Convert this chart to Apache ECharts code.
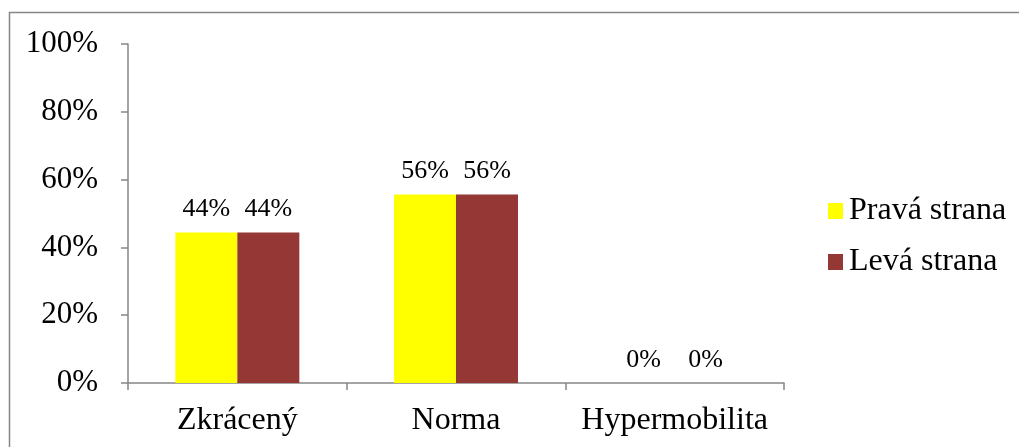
<!DOCTYPE html>
<html>
<head>
<meta charset="utf-8">
<script src="https://cdn.jsdelivr.net/npm/echarts@6/dist/echarts.min.js"></script>
<style>
html,body{margin:0;padding:0;background:#fff;}
#c{width:1019px;height:447px;}
</style>
</head>
<body>
<div id="c"></div>
<script>
const categories = ['Zkrácený', 'Norma', 'Hypermobilita'];
const seriesNames = ['Pravá strana', 'Levá strana'];
const pravaValues = [44.4, 55.6, 0];
const levaValues = [44.4, 55.6, 0];
const yTicks = [0, 20, 40, 60, 80, 100];

const chart = echarts.init(document.getElementById('c'), null, {renderer: 'canvas'});
const font = '"Liberation Serif", "Times New Roman", serif';
const labelCfg = {
  show: true,
  position: 'top',
  distance: 10,
  fontFamily: font,
  fontSize: 26,
  color: '#000',
  formatter: p => Math.round(p.value) + '%'
};
chart.setOption({
  animation: false,
  graphic: [{
    type: 'rect',
    shape: {x: 9.5, y: 12.5, width: 1030, height: 460},
    style: {fill: 'none', stroke: '#868686', lineWidth: 1.5},
    silent: true
  }],
  grid: {left: 128, right: 235, top: 44, bottom: 64, containLabel: false},
  legend: {
    orient: 'vertical',
    left: 828,
    top: 195,
    padding: 0,
    itemWidth: 15,
    itemHeight: 16,
    itemGap: 19,
    icon: 'rect',
    textStyle: {fontFamily: font, fontSize: 32, color: '#000', lineHeight: 32, padding: [0, 0, 0, 1]},
    data: seriesNames
  },
  xAxis: {
    type: 'category',
    data: categories,
    axisLine: {lineStyle: {color: '#868686', width: 1.5}},
    axisTick: {show: true, length: 7, lineStyle: {color: '#868686', width: 1.5}},
    axisLabel: {fontFamily: font, fontSize: 32, color: '#000', margin: 22, interval: 0}
  },
  yAxis: {
    type: 'value',
    min: 0,
    max: 100,
    interval: 20,
    axisLine: {show: true, lineStyle: {color: '#868686', width: 1.5}},
    axisTick: {show: true, length: 7, lineStyle: {color: '#868686', width: 1.5}},
    splitLine: {show: false},
    axisLabel: {fontFamily: font, fontSize: 31, color: '#000', margin: 30,
      formatter: v => yTicks.includes(v) ? v + '%' : ''}
  },
  series: [
    {name: seriesNames[0], type: 'bar', data: pravaValues, barWidth: 62, barGap: '0%',
      itemStyle: {color: '#FFFF00'}, label: labelCfg},
    {name: seriesNames[1], type: 'bar', data: levaValues, barWidth: 62, barGap: '0%',
      itemStyle: {color: '#953735'}, label: labelCfg}
  ]
});
</script>
</body>
</html>
